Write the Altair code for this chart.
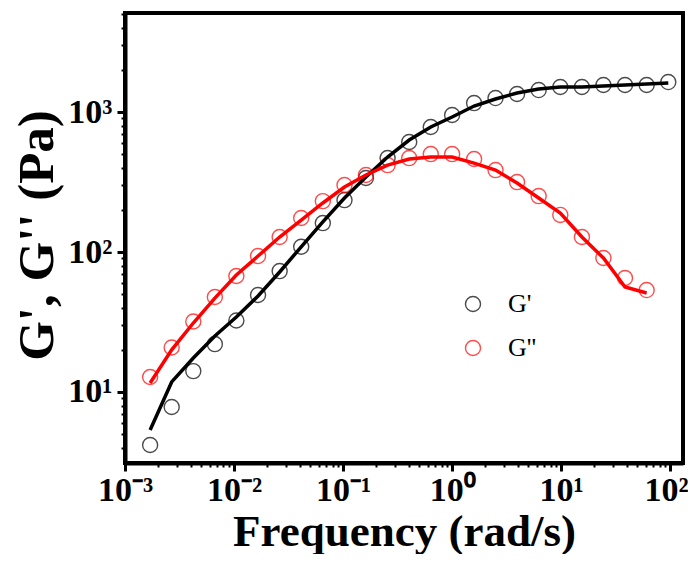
import altair as alt
import pandas as pd

# Angular frequency (rad/s)
freq = [0.0017, 0.00268, 0.00423, 0.00667, 0.0105, 0.0166, 0.0262, 0.0413,
        0.0652, 0.103, 0.162, 0.256, 0.404, 0.637, 1.0, 1.59, 2.5, 3.94,
        6.22, 9.82, 15.5, 24.4, 38.5, 60.8, 96.0]

# Measured moduli (Pa)
g1_points = [4.18, 7.81, 14.1, 22.0, 32.4, 49.3, 73.1, 109, 161, 235, 338,
             469, 611, 782, 952, 1159, 1259, 1345, 1436, 1510, 1510, 1560,
             1560, 1560, 1638]
g2_points = [12.8, 20.8, 31.9, 47.7, 67.4, 93.6, 128, 175, 231, 301, 355,
             418, 469, 501, 501, 462, 385, 316, 251, 184, 128, 90.6, 65.2,
             53.5]

# Model fit lines (Pa)
g1_fit = [5.35, 11.8, 17.5, 25.1, 34.3, 48.5, 72, 109, 164, 243, 344, 477,
          631, 782, 921, 1104, 1240, 1367, 1460, 1510, 1510, 1535, 1560,
          1585, 1611]
g2_fit = [11.6, 20, 31.1, 46.9, 68.5, 93.6, 128, 169, 224, 291, 355, 418,
          462, 477, 477, 432, 385, 311, 243, 190, 128, 90.6, 56.2, 51]

series_names = ["G'", "G''"]
series_colors = ["black", "red"]

x_major = [0.001, 0.01, 0.1, 1, 10, 100]
x_major_labels = ["10⁻³", "10⁻²", "10⁻¹", "10⁰", "10¹", "10²"]
y_major = [10, 100, 1000]
y_major_labels = ["10¹", "10²", "10³"]

x_minor = [m * d for d in [0.001, 0.01, 0.1, 1, 10] for m in range(2, 10)]
y_minor = [m * d for d in [1, 10, 100, 1000] for m in range(2, 10)
           if 3.11 < m * d < 5100]

pts = pd.DataFrame({
    "freq": freq + freq[:len(g2_points)],
    "value": g1_points + g2_points,
    "series": [series_names[0]] * len(g1_points) + [series_names[1]] * len(g2_points),
})
fit = pd.DataFrame({
    "freq": freq + freq[:len(g2_fit)],
    "value": g1_fit + g2_fit,
    "series": [series_names[0]] * len(g1_fit) + [series_names[1]] * len(g2_fit),
})

FONT = "Liberation Serif"
xscale = alt.Scale(type="log", domain=[0.001, 131], nice=False)
yscale = alt.Scale(type="log", domain=[3.11, 5100], nice=False)
cscale = alt.Scale(domain=series_names, range=series_colors)


def expr(vals, labels):
    return "[" + ",".join("'%s'" % l for l in labels) + "][indexof([" + \
        ",".join(repr(v) for v in vals) + "], datum.value)]"


x_major_axis = alt.Axis(
    orient="bottom", values=x_major, labelExpr=expr(x_major, x_major_labels),
    title="Frequency (rad/s)", grid=False, domain=True, domainWidth=4,
    domainColor="black", tickSize=8, tickWidth=3, tickColor="black",
    labelFont=FONT, labelFontWeight="bold", labelFontSize=34,
    labelColor="black", labelPadding=2, labelFlush=False, labelOverlap=False,
    labelOffset={"condition": {"test": "datum.value >= 100", "value": -4},
                 "value": 0},
    titleFont=FONT, titleFontWeight="bold", titleFontSize=45,
    titleColor="black", titleBaseline="alphabetic", titleY=82,
)
y_major_axis = alt.Axis(
    orient="left", values=y_major, labelExpr=expr(y_major, y_major_labels),
    title="G', G'' (Pa)", grid=False, domain=True, domainWidth=4,
    domainColor="black", tickSize=8, tickWidth=3, tickColor="black",
    labelFont=FONT, labelFontWeight="bold", labelFontSize=34,
    labelColor="black", labelPadding=5, labelFlush=False, labelOverlap=False,
    titleFont=FONT, titleFontWeight="bold", titleFontSize=51,
    titleColor="black", titleAngle=270, titleBaseline="alphabetic",
    titleAlign="center", titleX=-73, titleY=222,
)
x_minor_axis = alt.Axis(
    orient="bottom", values=x_minor, labels=False, title=None, grid=False,
    domain=False, tickSize=4, tickWidth=2, tickColor="black",
)
y_minor_axis = alt.Axis(
    orient="left", values=y_minor, labels=False, title=None, grid=False,
    domain=False, tickSize=4, tickWidth=2, tickColor="black",
)

points = alt.Chart(pts).mark_point(
    shape="circle", filled=False, size=227, strokeWidth=1.4
).encode(
    x=alt.X("freq:Q", scale=xscale, axis=x_minor_axis),
    y=alt.Y("value:Q", scale=yscale, axis=y_minor_axis),
    color=alt.Color("series:N", scale=cscale, sort=series_names,
                    legend=alt.Legend(title=None)),
)

lines = alt.Chart(fit).mark_line(strokeWidth=3.5).encode(
    x=alt.X("freq:Q", scale=xscale, axis=x_major_axis),
    y=alt.Y("value:Q", scale=yscale, axis=y_major_axis),
    color=alt.Color("series:N", scale=cscale, legend=None),
)

chart = alt.layer(points, lines).resolve_axis(
    x="independent", y="independent"
).resolve_scale(color="independent").properties(
    width=558, height=450,
    autosize=alt.AutoSizeParams(type="none"),
    padding={"left": 117, "top": 5, "right": 5, "bottom": 91},
).configure_view(
    stroke="black", strokeWidth=4
).configure_legend(
    orient="none", legendX=335, legendY=278, padding=0,
    labelFont=FONT, labelFontSize=26, labelColor="black",
    symbolType="circle", symbolSize=227, symbolStrokeWidth=1.4,
    rowPadding=18, labelOffset=22,
)

chart.save("out.html", embed_options={"renderer": "svg", "actions": False})
